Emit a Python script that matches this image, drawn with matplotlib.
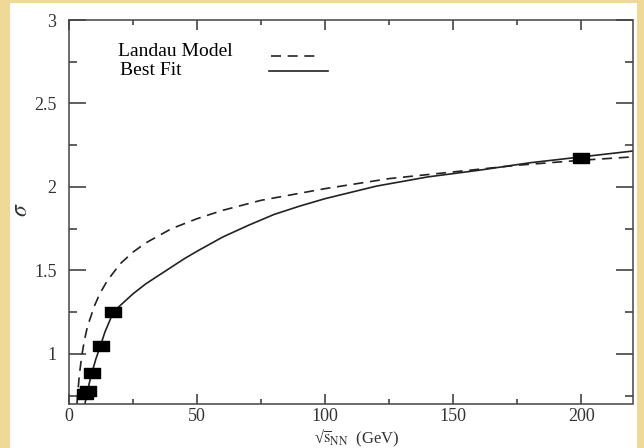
import numpy as np
import matplotlib
matplotlib.use("Agg")
import matplotlib.pyplot as plt
from matplotlib.patches import Rectangle
from matplotlib.ticker import MultipleLocator

# measured points (sqrt(s_NN) in GeV, width sigma)
data_x = [6.3, 7.6, 8.8, 12.3, 17.3, 200.0]
data_y = [0.76, 0.78, 0.885, 1.05, 1.25, 2.175]

# Landau model curve
landau_x = [3.1, 4, 5, 6, 7, 8, 10, 12, 15, 20, 25, 30, 40, 50, 60, 75,
            100, 125, 150, 175, 200, 220]
landau_y = [0.70, 0.87, 0.99, 1.08, 1.15, 1.20, 1.29, 1.36, 1.44, 1.54, 1.61,
            1.665, 1.75, 1.81, 1.86, 1.92, 1.99, 2.05, 2.09, 2.13, 2.16, 2.18]

# best fit curve
fit_x = [6.2, 7.0, 8.0, 9.0, 10.5, 12.3, 14, 17.3, 20, 25, 30, 35, 40, 45,
         50, 60, 70, 80, 90, 100, 120, 140, 160, 180, 200, 220]
fit_y = [0.70, 0.76, 0.83, 0.89, 0.97, 1.05, 1.13, 1.25, 1.29, 1.36, 1.42,
         1.47, 1.52, 1.57, 1.615, 1.70, 1.77, 1.835, 1.885, 1.93, 2.005, 2.06,
         2.10, 2.145, 2.18, 2.215]

plt.rcParams['font.family'] = ['Liberation Serif', 'DejaVu Serif']
plt.rcParams['mathtext.fontset'] = 'stix'

ink = '#333333'

fig = plt.figure(figsize=(6.44, 4.48), dpi=100, facecolor='#F0D896')
fig.patches.append(Rectangle((10 / 644, 0), 627 / 644, 445 / 448,
                             transform=fig.transFigure, facecolor='white',
                             edgecolor='none', zorder=-1))
ax = fig.add_axes([69 / 644, 44 / 448, 563.5 / 644, 384 / 448])

ax.plot(landau_x, landau_y, color='#222222', lw=1.2, linestyle=(0, (6, 4)))
ax.plot(fit_x, fit_y, color='#222222', lw=1.2)

rect = [(-1.5, -1), (1.5, -1), (1.5, 1), (-1.5, 1), (-1.5, -1)]
ax.plot(data_x, data_y, linestyle='none', marker=rect, ms=11,
        color='black', zorder=3)

# legend drawn by hand like the original
ax.text(0.087, 0.917, 'Landau Model', transform=ax.transAxes, fontsize=14,
        va='center', color='black')
ax.text(0.091, 0.868, 'Best Fit', transform=ax.transAxes, fontsize=14,
        va='center', color='black')
ax.plot([0.359, 0.446], [0.906, 0.906], transform=ax.transAxes,
        color='#222222', lw=1.2, linestyle=(0, (6, 4)))
ax.plot([0.355, 0.460], [0.867, 0.867], transform=ax.transAxes,
        color='#222222', lw=1.2)

ax.set_xlim(0, 220)
ax.set_ylim(0.7, 3)
ax.xaxis.set_major_locator(MultipleLocator(50))
ax.xaxis.set_minor_locator(MultipleLocator(25))
ax.yaxis.set_major_locator(MultipleLocator(0.5))
ax.yaxis.set_minor_locator(MultipleLocator(0.25))
ax.set_yticks([1, 1.5, 2, 2.5, 3])
ax.set_yticklabels(['1', '1.5', '2', '2.5', '3'])

ax.tick_params(axis='both', which='both', direction='in', top=True,
               right=True, colors=ink, width=1.1, labelsize=13,
               labelcolor=ink)
ax.tick_params(axis='x', which='major', length=7.5, pad=3)
ax.tick_params(axis='x', which='minor', length=3.6)
ax.tick_params(axis='y', which='major', length=12.3, pad=9)
ax.tick_params(axis='y', which='minor', length=5.8)
for s in ax.spines.values():
    s.set_color('#444444')
    s.set_linewidth(1.1)

ax.set_xlabel('\u221a' + r'$\overline{\rm s}_{\rm NN}$  (GeV)', fontsize=12,
              color=ink, va='center')
ax.xaxis.set_label_coords(0.51, -0.09)
ax.set_ylabel(r'$\sigma$', fontsize=17, color=ink, rotation=90, va='center')
ax.yaxis.set_label_coords(-0.085, 0.505)

fig.savefig('out.png', dpi=100, facecolor=fig.get_facecolor())
